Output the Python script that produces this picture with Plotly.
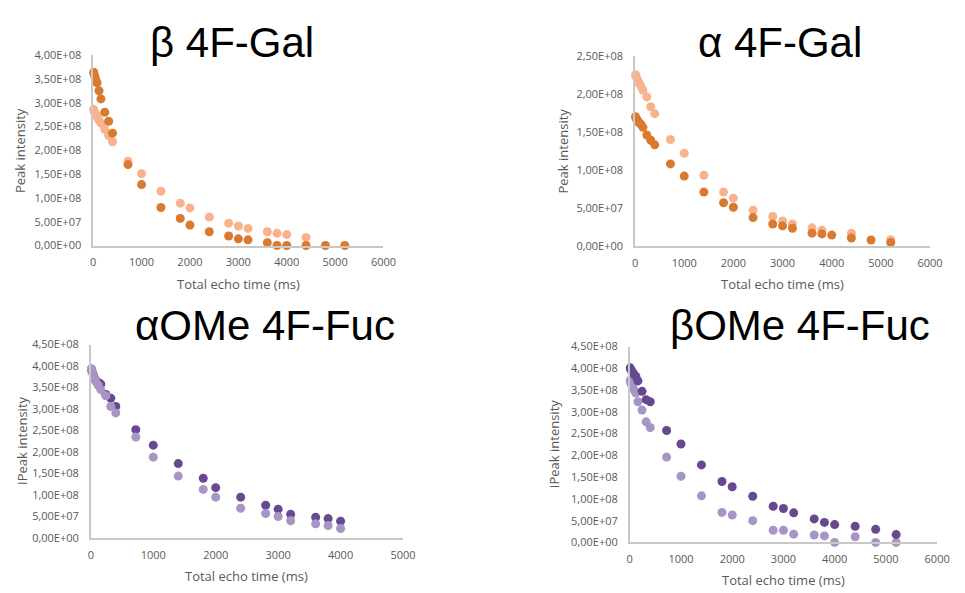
import plotly.graph_objects as go

# ---------------- data (intensities in units of 1e8) ----------------
t_long = [10, 20, 40, 60, 80, 120, 160, 240, 320, 400, 720, 1000, 1400, 1800,
          2000, 2400, 2800, 3000, 3200, 3600, 3800, 4000, 4400, 4800, 5200]
t_short = [10, 20, 40, 60, 80, 120, 160, 240, 320, 400, 720, 1000, 1400, 1800,
           2000, 2400, 2800, 3000, 3200, 3600, 3800, 4000]

beta_gal_dark = [3.64, 3.60, 3.53, 3.46, 3.42, 3.25, 3.08, 2.80, 2.61, 2.36, 1.70, 1.28,
                 0.80, 0.57, 0.43, 0.29, 0.20, 0.14, 0.12, 0.06, 0.0, 0.0, 0.0, 0.0, 0.0]
beta_gal_light = [2.86, 2.82, 2.78, 2.74, 2.70, 2.63, 2.57, 2.44, 2.31, 2.18, 1.77, 1.51,
                  1.14, 0.89, 0.79, 0.60, 0.47, 0.41, 0.36, 0.29, 0.26, 0.23, 0.17, None, None]

alpha_gal_dark = [1.70, 1.68, 1.66, 1.64, 1.62, 1.60, 1.56, 1.46, 1.39, 1.33, 1.08, 0.92,
                  0.71, 0.57, 0.51, 0.375, 0.29, 0.265, 0.235, 0.17, 0.16, 0.145, 0.107, 0.081, 0.047]
alpha_gal_light = [2.25, 2.23, 2.20, 2.17, 2.14, 2.10, 2.05, 1.96, 1.83, 1.74, 1.40, 1.22,
                   0.93, 0.71, 0.63, 0.47, 0.39, 0.33, 0.29, 0.24, 0.21, None, 0.17, None, 0.085]

alpha_fuc_dark = [3.93, 3.88, 3.80, 3.72, 3.66, 3.62, 3.58, 3.34, 3.25, 3.06, 2.52, 2.16,
                  1.73, 1.39, 1.17, 0.95, 0.76, 0.67, 0.55, 0.48, 0.45, 0.39]
alpha_fuc_light = [3.93, 3.87, 3.79, 3.70, 3.64, 3.55, 3.45, 3.31, 3.06, 2.91, 2.35, 1.88,
                   1.44, 1.13, 0.95, 0.69, 0.57, 0.50, 0.40, 0.33, 0.29, 0.22]

beta_fuc_dark = [4.01, 3.97, 3.94, 3.90, 3.87, 3.81, 3.71, 3.47, 3.28, 3.23, 2.57, 2.26,
                 1.78, 1.40, 1.28, 1.06, 0.83, 0.78, 0.68, 0.54, 0.46, 0.41, 0.37, 0.30, 0.18]
beta_fuc_light = [3.72, 3.67, 3.62, 3.56, 3.51, 3.43, 3.23, 3.04, 2.77, 2.64, 1.96, 1.52,
                  1.07, 0.69, 0.63, 0.50, 0.28, 0.28, 0.19, 0.17, 0.15, 0.0, 0.13, 0.0, 0.0]

titles = ["\u03b2 4F-Gal", "\u03b1 4F-Gal", "\u03b1OMe 4F-Fuc", "\u03b2OMe 4F-Fuc"]
y_titles = ["Peak intensity", "Peak intensity", "IPeak intensity", "IPeak intensity"]
x_title = "Total echo time (ms)"

x_ticks_6000 = [0, 1000, 2000, 3000, 4000, 5000, 6000]
x_ticks_5000 = [0, 1000, 2000, 3000, 4000, 5000]
y_ticks_400 = [0, 0.5, 1.0, 1.5, 2.0, 2.5, 3.0, 3.5, 4.0]
y_labels_400 = ["0,00E+00", "5,00E+07", "1,00E+08", "1,50E+08", "2,00E+08",
                "2,50E+08", "3,00E+08", "3,50E+08", "4,00E+08"]
y_ticks_250 = [0, 0.5, 1.0, 1.5, 2.0, 2.5]
y_labels_250 = ["0,00E+00", "5,00E+07", "1,00E+08", "1,50E+08", "2,00E+08", "2,50E+08"]
y_ticks_450 = [0, 0.5, 1.0, 1.5, 2.0, 2.5, 3.0, 3.5, 4.0, 4.5]
y_labels_450 = ["0,00E+00", "5,00E+07", "1,00E+08", "1,50E+08", "2,00E+08",
                "2,50E+08", "3,00E+08", "3,50E+08", "4,00E+08", "4,50E+08"]

ORANGE_DARK = "#D97A2F"
ORANGE_LIGHT = "#F8B38D"
PURPLE_DARK = "#68488F"
PURPLE_LIGHT = "#A795C3"

W, H = 965, 593
SCALE = 1e8


def sc(vals):
    return [None if v is None else v * SCALE for v in vals]


# panel geometry in pixels: (x0, x1, y_bottom, y_top)
panels = [
    dict(px=(91.7, 386.9), py=(243.7, 48.3), xr=6000, yr=4.0, xt=x_ticks_6000,
         yt=y_ticks_400, yl=y_labels_400,
         series=[(t_long, beta_gal_light, ORANGE_LIGHT), (t_long, beta_gal_dark, ORANGE_DARK)],
         title_xy=(233, 35), ytitle_x=18, xtitle_y=283),
    dict(px=(642.7, 942.7), py=(244.3, 49.0), xr=6000, yr=2.5, xt=x_ticks_6000,
         yt=y_ticks_250, yl=y_labels_250,
         series=[(t_long, alpha_gal_light, ORANGE_LIGHT), (t_long, alpha_gal_dark, ORANGE_DARK)],
         title_xy=(790, 35), ytitle_x=569, xtitle_y=283),
    dict(px=(89.3, 406.8), py=(543.7, 345.3), xr=5000, yr=4.5, xt=x_ticks_5000,
         yt=y_ticks_450, yl=y_labels_450,
         series=[(t_short, alpha_fuc_dark, PURPLE_DARK), (t_short, alpha_fuc_light, PURPLE_LIGHT)],
         title_xy=(266, 326), ytitle_x=20, xtitle_y=583),
    dict(px=(637.3, 949.9), py=(548.3, 347.3), xr=6000, yr=4.5, xt=x_ticks_6000,
         yt=y_ticks_450, yl=y_labels_450,
         series=[(t_long, beta_fuc_light, PURPLE_LIGHT), (t_long, beta_fuc_dark, PURPLE_DARK)],
         title_xy=(810, 326), ytitle_x=561, xtitle_y=587),
]

fig = go.Figure()
layout = dict(width=W, height=H, margin=dict(l=0, r=0, t=0, b=0),
              paper_bgcolor="white", plot_bgcolor="white", showlegend=False)
annotations = []
TICK_FONT = dict(family="Open Sans, sans-serif", size=11, color="#595959")
AX_FONT = dict(family="Open Sans, sans-serif", size=13, color="#595959")
TITLE_FONT = dict(family="Liberation Sans, Arial, sans-serif", size=42, color="#000000")
HIDDEN_TICK = "rgba(0,0,0,0)"

for i, p in enumerate(panels, start=1):
    xa = "x" if i == 1 else f"x{i}"
    ya = "y" if i == 1 else f"y{i}"
    for xs, ys, col in p["series"]:
        fig.add_trace(go.Scatter(x=xs, y=sc(ys), mode="markers", xaxis=xa, yaxis=ya,
                                 marker=dict(size=9, color=col), cliponaxis=False,
                                 hoverinfo="x+y"))
    xd = [p["px"][0] / W, p["px"][1] / W]
    yd = [1 - p["py"][0] / H, 1 - p["py"][1] / H]
    key_x = "xaxis" if i == 1 else f"xaxis{i}"
    key_y = "yaxis" if i == 1 else f"yaxis{i}"
    layout[key_x] = dict(domain=xd, range=[0, p["xr"]], anchor=ya, tickvals=p["xt"],
                         showgrid=False, zeroline=False, showline=True,
                         linecolor="#C8C8C8", linewidth=1.5,
                         ticks="outside", ticklen=6, tickcolor=HIDDEN_TICK,
                         tickfont=TICK_FONT)
    layout[key_y] = dict(domain=yd, range=[0, p["yr"] * SCALE], anchor=xa,
                         tickvals=[v * SCALE for v in p["yt"]], ticktext=p["yl"],
                         showgrid=False, zeroline=False, showline=True,
                         linecolor="#C8C8C8", linewidth=1.5,
                         ticks="outside", ticklen=8, tickcolor=HIDDEN_TICK,
                         tickfont=TICK_FONT)
    annotations.append(dict(text=titles[i - 1], x=p["title_xy"][0] / W, y=1 - p["title_xy"][1] / H,
                            xref="paper", yref="paper", showarrow=False,
                            xanchor="center", yanchor="middle", font=TITLE_FONT))
    annotations.append(dict(text=y_titles[i - 1], x=p["ytitle_x"] / W,
                            y=1 - ((p["py"][0] + p["py"][1]) / 2) / H,
                            xref="paper", yref="paper", showarrow=False, textangle=-90,
                            xanchor="center", yanchor="middle", font=AX_FONT))
    annotations.append(dict(text=x_title, x=(p["px"][0] + p["px"][1]) / 2 / W,
                            y=1 - p["xtitle_y"] / H,
                            xref="paper", yref="paper", showarrow=False,
                            xanchor="center", yanchor="middle", font=AX_FONT))

layout["annotations"] = annotations
fig.update_layout(**layout)
fig.write_html("out.html")
